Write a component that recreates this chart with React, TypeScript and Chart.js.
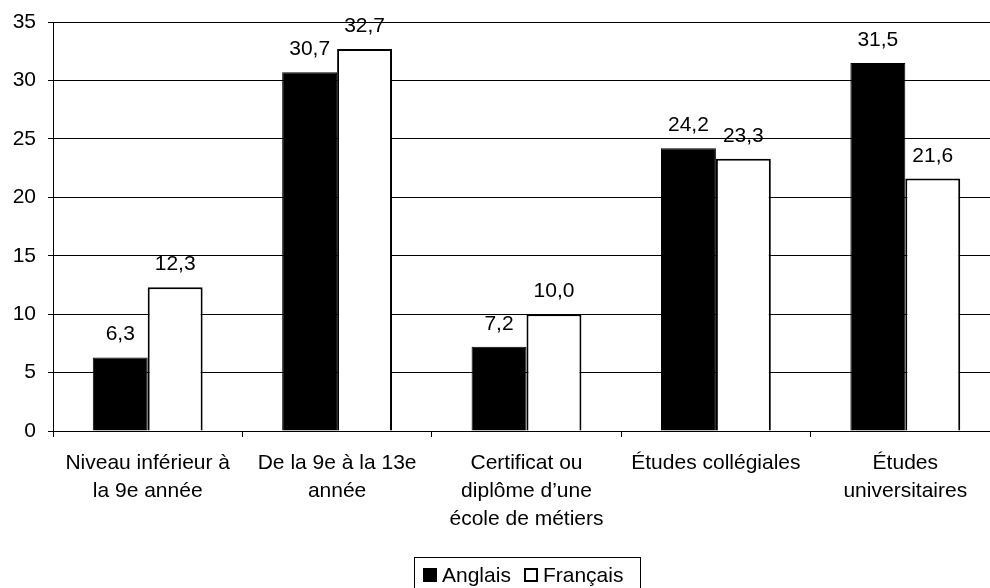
import React, { useEffect, useRef } from "react";
import { Chart, registerables } from "chart.js";

Chart.register(...registerables);

const categories: string[][] = [
  ["Niveau inférieur à", "la 9e année"],
  ["De la 9e à la 13e", "année"],
  ["Certificat ou", "diplôme d’une", "école de métiers"],
  ["Études collégiales"],
  ["Études", "universitaires"],
];
const anglais = [6.3, 30.7, 7.2, 24.2, 31.5];
const francais = [12.3, 32.7, 10.0, 23.3, 21.6];
const seriesNames = ["Anglais", "Français"];

const FONT = "'Liberation Sans', Arial, sans-serif";
const FS = 21;

const valueLabels = {
  id: "valueLabels",
  afterDatasetsDraw(chart: any) {
    const ctx = chart.ctx;
    ctx.save();
    ctx.font = `${FS}px ${FONT}`;
    ctx.fillStyle = "#000";
    ctx.textAlign = "center";
    ctx.textBaseline = "alphabetic";
    chart.data.datasets.forEach((ds: any, i: number) => {
      const meta = chart.getDatasetMeta(i);
      meta.data.forEach((bar: any, j: number) => {
        const v = ds.data[j] as number;
        ctx.fillText(v.toFixed(1).replace(".", ","), bar.x, bar.y - 17);
      });
    });
    ctx.restore();
  },
};

export default function App() {
  const ref = useRef<HTMLCanvasElement>(null);
  useEffect(() => {
    const chart = new Chart(ref.current!, {
      type: "bar",
      data: {
        labels: categories,
        datasets: [
          {
            label: seriesNames[0],
            data: anglais,
            backgroundColor: "#000",
            borderColor: "#000",
            borderWidth: 1,
          },
          {
            label: seriesNames[1],
            data: francais,
            backgroundColor: "#fff",
            borderColor: "#000",
            borderWidth: 2,
          },
        ],
      },
      options: {
        animation: false,
        responsive: false,
        maintainAspectRatio: false,
        layout: { padding: { top: 22, right: 2, left: 0, bottom: 0 } },
        plugins: {
          legend: { display: false },
          tooltip: { enabled: false },
        },
        datasets: {
          bar: { categoryPercentage: 0.58, barPercentage: 1 },
        },
        scales: {
          x: {
            offset: true,
            afterFit: (s: any) => {
              s.height = 157;
              s.paddingLeft = 0;
              s.paddingRight = 0;
            },
            grid: {
              offset: true,
              drawOnChartArea: false,
              drawTicks: true,
              tickLength: 6,
              color: "#000",
            },
            border: { color: "#000", width: 1 },
            ticks: {
              color: "#000",
              padding: 12,
              maxRotation: 0,
              autoSkip: false,
              font: { family: FONT, size: FS, lineHeight: "28px" } as any,
            },
          },
          y: {
            min: 0,
            max: 35,
            afterFit: (s: any) => {
              s.width = 53;
              s.paddingTop = 0;
              s.paddingBottom = 0;
            },
            grid: {
              color: "#000",
              lineWidth: 1,
              tickLength: 5,
              drawTicks: true,
            },
            border: { color: "#000", width: 1 },
            ticks: {
              stepSize: 5,
              color: "#000",
              padding: 12,
              font: { family: FONT, size: FS },
            },
          },
        },
      },
      plugins: [valueLabels],
    });
    return () => chart.destroy();
  }, []);

  const sq = (fill: string) => ({
    display: "inline-block",
    width: 14,
    height: 14,
    background: fill,
    border: "2px solid #000",
    marginRight: 5,
    boxSizing: "border-box" as const,
    flex: "none",
  });

  return (
    <div
      style={{
        position: "fixed",
        left: 0,
        top: 0,
        width: 990,
        height: 588,
        overflow: "hidden",
        background: "#fff",
      }}
    >
      <canvas
        ref={ref}
        width={1002}
        height={588}
        style={{ position: "absolute", left: 0, top: 0, width: 1002, height: 588 }}
      />
      <div
        style={{
          position: "absolute",
          left: 414,
          top: 557,
          width: 227,
          height: 38,
          border: "1px solid #000",
          boxSizing: "border-box",
          display: "flex",
          alignItems: "center",
          justifyContent: "flex-start",
          fontFamily: FONT,
          fontSize: FS,
          color: "#000",
          paddingLeft: 8,
          paddingBottom: 2,
        }}
      >
        <span style={sq("#000")} />
        <span style={{ marginRight: 13 }}>{seriesNames[0]}</span>
        <span style={sq("#fff")} />
        <span>{seriesNames[1]}</span>
      </div>
    </div>
  );
}
